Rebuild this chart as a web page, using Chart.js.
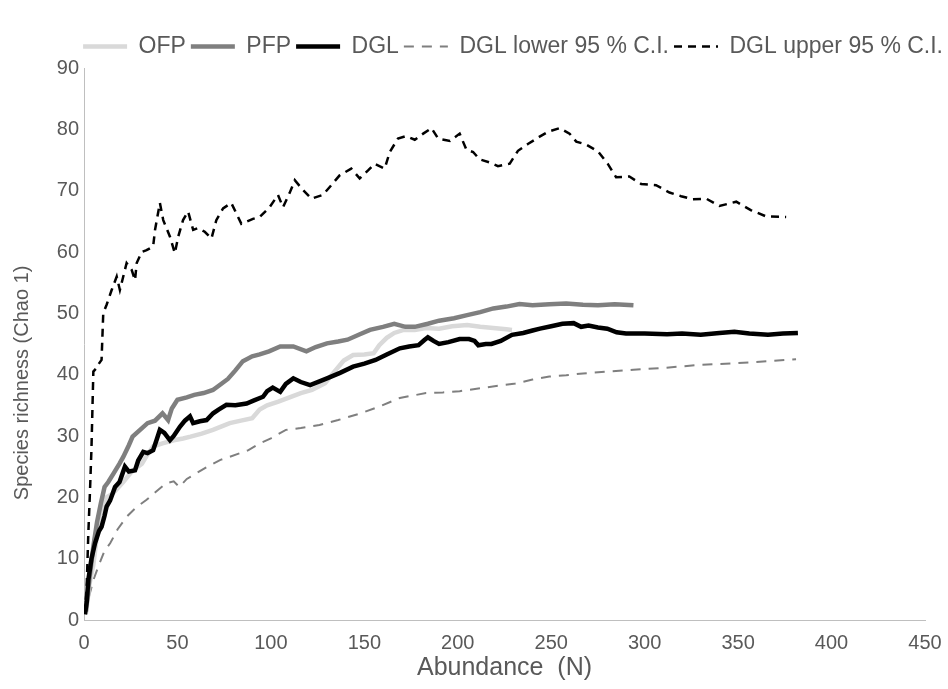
<!DOCTYPE html>
<html>
<head>
<meta charset="utf-8">
<script src="https://cdn.jsdelivr.net/npm/chart.js@4.4.0/dist/chart.umd.min.js"></script>
<style>
  html, body { margin: 0; padding: 0; background: #fff; }
  #wrap { width: 948px; height: 689px; }
</style>
</head>
<body>
<div id="wrap"><canvas id="chart" width="948" height="689"></canvas></div>
<script>
// Dados: abundancia (N) e riqueza estimada (Chao 1)
const labelsSeries = ['OFP', 'PFP', 'DGL', 'DGL lower 95 % C.I.', 'DGL upper 95 % C.I.'];
const xTicks = [0, 50, 100, 150, 200, 250, 300, 350, 400, 450];
const yTicks = [0, 10, 20, 30, 40, 50, 60, 70, 80, 90];

const ofpN = [1, 3, 5, 7, 9, 12, 15, 18, 21, 25, 28, 31, 34, 37, 42, 48, 53, 57, 63, 69, 74, 78, 84, 90, 94, 98, 104, 110, 116, 122, 129, 134, 139, 144, 150, 155, 158, 162, 166, 171, 177, 183, 190, 197, 205, 212, 219, 226, 229];
const ofpS = [1, 6, 9, 14, 17, 20, 20.5, 21.5, 22.5, 24, 24.8, 25.5, 27, 28.3, 28.8, 29.3, 29.6, 29.9, 30.4, 31, 31.6, 32.1, 32.5, 32.9, 34.3, 35, 35.6, 36.3, 37, 37.5, 38.6, 40.5, 42.3, 43.2, 43.3, 43.5, 44.8, 46, 46.8, 47.3, 47.3, 47.6, 47.5, 47.9, 48.1, 47.8, 47.6, 47.4, 47.3];

const pfpN = [1, 3, 5, 7, 9, 11, 13, 16, 19, 21, 24, 26, 30, 34, 38, 42, 45, 47, 50, 55, 59, 64, 69, 73, 77, 81, 85, 90, 94, 99, 105, 112, 119, 124, 130, 136, 141, 147, 153, 160, 166, 172, 177, 184, 190, 198, 205, 212, 219, 226, 233, 240, 249, 258, 267, 275, 284, 294];
const pfpS = [1.4, 7, 12, 16, 19, 21.7, 22.5, 24, 25.5, 26.6, 28.5, 29.9, 31, 32.1, 32.5, 33.7, 32.6, 34.5, 35.9, 36.3, 36.7, 37, 37.5, 38.4, 39.3, 40.7, 42.2, 43, 43.3, 43.8, 44.6, 44.6, 43.8, 44.5, 45.1, 45.4, 45.7, 46.5, 47.3, 47.8, 48.3, 47.8, 47.8, 48.3, 48.8, 49.2, 49.7, 50.2, 50.8, 51.1, 51.5, 51.3, 51.5, 51.6, 51.4, 51.3, 51.5, 51.3];

const dglN = [0.5, 1.5, 2.3, 4, 5.9, 8, 9.4, 11, 12.1, 14, 16.6, 19, 21.9, 24, 27.3, 29, 31.7, 34, 37, 39, 40.6, 43, 46, 48, 51.3, 54, 56.7, 58.4, 62, 65.6, 69.1, 72, 76.2, 81, 87, 91, 95.8, 98, 101, 105, 108, 112, 116, 121, 126, 130, 137, 144, 150, 156, 162, 169, 174, 179, 182, 184, 187, 190, 195, 201, 206, 209, 211, 215, 218, 223, 229, 235, 240, 244, 250, 256, 262, 266, 270, 275, 280, 285, 290, 300, 312, 320, 330, 340, 348, 356, 366, 374, 382];
const dglS = [0.9, 3, 6.5, 10, 12.5, 14.5, 15.2, 17, 18.5, 19.5, 21.7, 22.5, 25, 24.2, 24.4, 26, 27.4, 27.2, 27.7, 29.5, 31, 30.5, 29.3, 30, 31.5, 32.5, 33.2, 32.1, 32.4, 32.6, 33.7, 34.3, 35.1, 35, 35.3, 35.8, 36.4, 37.3, 37.9, 37.2, 38.5, 39.4, 38.8, 38.3, 38.9, 39.4, 40.3, 41.3, 41.8, 42.4, 43.3, 44.3, 44.6, 44.8, 45.6, 46.1, 45.5, 45, 45.3, 45.8, 45.8, 45.5, 44.8, 45, 45, 45.5, 46.5, 46.8, 47.2, 47.5, 47.9, 48.3, 48.4, 47.8, 48, 47.7, 47.5, 46.9, 46.7, 46.7, 46.6, 46.7, 46.5, 46.8, 47, 46.7, 46.5, 46.7, 46.8];

const lowN = [0.5, 2, 5, 8, 11, 14, 18, 23, 28, 33.5, 38, 44, 48, 51, 55, 60, 66, 73, 78, 83.5, 88, 94, 100, 108, 116, 126, 136, 148, 158, 169, 176, 183, 192, 201, 212, 222, 230, 240, 249, 258, 267, 280, 294, 310, 330, 350, 366, 381];
const lowS = [1, 3, 6.5, 9, 11.3, 12.5, 14.8, 16.9, 18.4, 19.6, 20.8, 22.3, 22.6, 21.7, 23, 23.9, 25, 26.1, 26.6, 27.2, 27.7, 28.8, 29.6, 31, 31.3, 31.8, 32.6, 33.7, 34.8, 36.2, 36.6, 37, 37.1, 37.3, 37.8, 38.2, 38.5, 39.2, 39.7, 39.9, 40.2, 40.5, 40.8, 41.1, 41.6, 41.9, 42.2, 42.5];

const upN = [0.5, 1.5, 2.3, 3.2, 4, 5, 6.5, 8, 9.4, 10.3, 12.1, 14.8, 17.5, 19.2, 22.8, 25.5, 27.3, 28.2, 30.9, 33.5, 37, 38, 40.6, 42.4, 46, 48.6, 50.4, 53, 55.7, 58.4, 61, 64.6, 68.2, 70.8, 74.4, 78.8, 81.5, 84.2, 90.4, 94, 99.3, 103.8, 106.5, 110, 112.8, 117.2, 121.7, 127.8, 131.5, 136.8, 143, 147.5, 152, 155.5, 160.9, 163.6, 168, 172.5, 177, 181.5, 185.9, 189.5, 195.8, 201, 204.6, 208.2, 211.7, 217, 221.5, 227.8, 232.2, 237.5, 243.8, 248.3, 254.5, 259.8, 263.4, 268.8, 275, 280.2, 284.7, 291.8, 298.1, 306.1, 313.3, 319.5, 325.8, 332.9, 340, 349, 357, 365, 375.7];
const upS = [1, 6, 14, 21, 28, 40.5, 41, 41.8, 42.4, 50, 51.4, 53.8, 56, 53.8, 58.2, 57.1, 55.4, 58.2, 60, 60.3, 60.9, 63.6, 68, 65.2, 62.5, 59.8, 62.5, 65.2, 66.6, 63.6, 63.9, 63.3, 62.2, 65.2, 67.1, 68, 66.3, 64.6, 65.4, 65.7, 67.3, 69.3, 67.3, 69.6, 71.7, 70.1, 68.7, 69.3, 70.6, 72.5, 73.6, 72, 73.3, 74.4, 73.6, 76.3, 78.5, 78.9, 78.3, 79.3, 80.2, 78.5, 78.1, 79.3, 76.7, 76.3, 75.1, 74.6, 74, 74.4, 76.5, 77.6, 78.8, 79.6, 80.2, 79.3, 78, 77.5, 76.4, 74.4, 72.2, 72.3, 71.1, 70.9, 69.7, 69.1, 68.6, 68.7, 67.5, 68.2, 66.8, 65.8, 65.7];

const textColor = '#595959';
const axisColor = '#bfbfbf';
const fontFamily = "'Liberation Sans', Arial, sans-serif";

function toPoints(xs, ys) {
    return xs.map((x, i) => ({x: x, y: ys[i]}));
}

const datasets = [
    {label: labelsSeries[0], data: toPoints(ofpN, ofpS), borderColor: '#d9d9d9', borderWidth: 4.5, order: 3},
    {label: labelsSeries[1], data: toPoints(pfpN, pfpS), borderColor: '#7f7f7f', borderWidth: 4.5, order: 2},
    {label: labelsSeries[2], data: toPoints(dglN, dglS), borderColor: '#000000', borderWidth: 4.5, order: 1},
    {label: labelsSeries[3], data: toPoints(lowN, lowS), borderColor: '#7f7f7f', borderWidth: 2, borderDash: [10, 8], order: 4},
    {label: labelsSeries[4], data: toPoints(upN, upS), borderColor: '#000000', borderWidth: 2.5, borderDash: [8, 6], order: 5}
].map(ds => Object.assign(ds, {pointRadius: 0, pointHoverRadius: 0, tension: 0, fill: false, backgroundColor: ds.borderColor}));

// legenda: linha com o mesmo tracejado da serie
function legendLabels(chart) {
    const items = Chart.defaults.plugins.legend.labels.generateLabels(chart);
    items.forEach(item => {
        const ds = chart.data.datasets[item.datasetIndex];
        item.lineDash = ds.borderDash || [];
        item.lineWidth = ds.borderWidth;
        item.strokeStyle = ds.borderColor;
    });
    return items;
}

// espacos no fim empurram o titulo do eixo y para baixo, como no original
const yTitle = 'Species richness (Chao 1)' + '\u00a0'.repeat(14);

const ctx = document.getElementById('chart');

new Chart(ctx, {
    type: 'line',
    data: {datasets: datasets},
    options: {
        responsive: false,
        animation: false,
        layout: {padding: {top: 3, left: 0, right: 0, bottom: 0}},
        plugins: {
            tooltip: {enabled: false},
            legend: {
                position: 'top',
                align: 'end',
                labels: {
                    usePointStyle: true,
                    pointStyle: 'line',
                    pointStyleWidth: 44,
                    padding: 5,
                    color: textColor,
                    font: {family: fontFamily, size: 23},
                    generateLabels: legendLabels,
                    sort: (a, b) => a.datasetIndex - b.datasetIndex
                }
            }
        },
        scales: {
            x: {
                type: 'linear',
                min: 0,
                max: 450,
                afterFit: scale => { scale.height = 69; scale.paddingRight = 23; },
                afterBuildTicks: scale => { scale.ticks = xTicks.map(v => ({value: v})); },
                grid: {drawOnChartArea: false, drawTicks: false},
                border: {display: true, color: axisColor, width: 1},
                ticks: {color: textColor, padding: 11, font: {family: fontFamily, size: 20}},
                title: {display: true, text: 'Abundance  (N)', color: textColor, padding: {top: 0, bottom: 6}, font: {family: fontFamily, size: 25}}
            },
            y: {
                min: 0,
                max: 90,
                afterFit: scale => { scale.width = 84; scale.paddingTop = 68; },
                afterBuildTicks: scale => { scale.ticks = yTicks.map(v => ({value: v})); },
                grid: {drawOnChartArea: false, drawTicks: false},
                border: {display: true, color: axisColor, width: 1},
                ticks: {color: textColor, padding: 5, font: {family: fontFamily, size: 20}},
                title: {display: true, text: yTitle, color: textColor, padding: {top: 10, bottom: 0}, font: {family: fontFamily, size: 20}}
            }
        }
    }
});
</script>
</body>
</html>
